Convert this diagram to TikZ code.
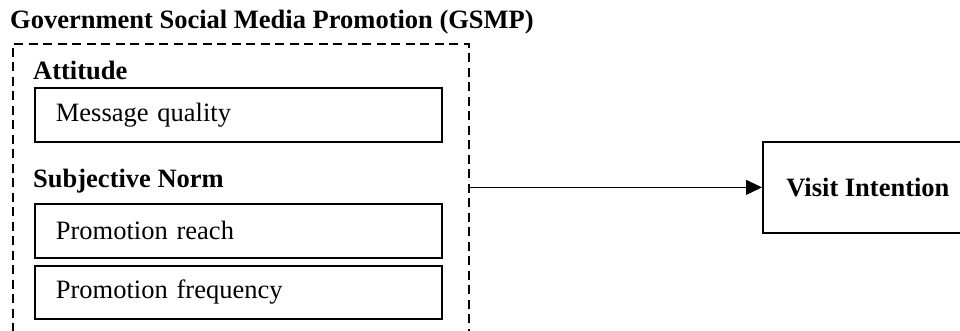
\documentclass[tikz,border=0pt]{standalone}
\usepackage{fontspec}
\setmainfont{Liberation Serif}
\usetikzlibrary{arrows.meta}
\begin{document}
\begin{tikzpicture}[x=1pt,y=-1pt,
  txt/.style={font=\fontsize{26.5}{30}\selectfont, inner sep=0pt},
  heading/.style={txt, font=\fontsize{26.5}{30}\selectfont\bfseries, anchor=base west},
  item/.style={txt, draw, line width=1.8pt, anchor=north west,
    text width=365pt, inner xsep=21pt, minimum height=54pt, align=left},
  group/.style={draw, line width=1.8pt, dash pattern=on 9pt off 5.5pt,
    anchor=north west, minimum width=456pt, minimum height=302pt, inner sep=0pt},
  target/.style={txt, draw, line width=1.8pt, anchor=north west,
    minimum width=210pt, minimum height=91pt, font=\fontsize{26.5}{30}\selectfont\bfseries},
  link/.style={line width=1pt, -{Triangle[length=16pt,width=15pt]}}]
  \useasboundingbox (0,0) rectangle (960,331);
  \clip (0,0) rectangle (960,331);

  % dashed grouping frame for the GSMP constructs
  \node[group] (gsmp) at (12,43) {};
  \node[heading] (title) at (10,29) {Government Social Media Promotion (GSMP)};

  % attitude
  \node[heading] (att) at (33,80) {Attitude};
  \node[item] (mq) at (34,87) {Message quality};

  % subjective norm
  \node[heading] (sn) at (33,187) {Subjective Norm};
  \node[item] (pr) at (34,203) {Promotion reach};
  \node[item, minimum height=53pt] (pf) at (34,265) {Promotion frequency};

  % outcome
  \node[target] (vi) at (762,141) {Visit Intention};

  \draw[link] (vi.west -| gsmp.east) -- (vi.west);
\end{tikzpicture}
\end{document}
